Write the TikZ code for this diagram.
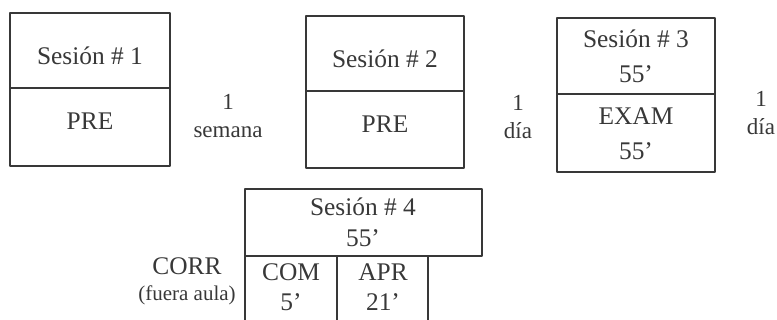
\documentclass[tikz,border=0pt]{standalone}
\usepackage{fontspec}
\setmainfont{Liberation Serif}
\usetikzlibrary{positioning}
\definecolor{inkgray}{HTML}{383838}
\tikzset{
  boxline/.style={draw=inkgray, line width=0.6pt},
  boxtext/.style={font=\fontsize{12.7}{17.5}\selectfont, text=inkgray, align=center, inner sep=0pt},
  gaptext/.style={font=\fontsize{11.5}{14}\selectfont, text=inkgray, align=center, inner sep=0pt},
}
\begin{document}
\begin{tikzpicture}[x=0.5pt, y=-0.5pt, line cap=round, line join=round]
      \clip (0,0) rectangle (777,320);

      % Sesion 1
      \draw[boxline] (10,13) rectangle (170,88);
      \draw[boxline] (10,88) rectangle (170,166);
      \node[boxtext] (s1) at (90,56) {Sesión \# 1};
      \node[boxtext] (pre1) at (90,121) {PRE};
      \node[gaptext] (gap1) at (228,116) {1\\semana};

      % Sesion 2
      \draw[boxline] (306,16) rectangle (464,91);
      \draw[boxline] (306,91) rectangle (464,168);
      \node[boxtext] (s2) at (385,59) {Sesión \# 2};
      \node[boxtext] (pre2) at (385,124) {PRE};
      \node[gaptext] (gap2) at (518,117) {1\\día};

      % Sesion 3
      \draw[boxline] (557,18) rectangle (715,94);
      \draw[boxline] (557,94) rectangle (715,172);
      \node[boxtext] (s3) at (636,56) {Sesión \# 3\\55'};
      \node[boxtext] (exam3) at (636,134) {EXAM\\55'};
      \node[gaptext] (gap3) at (761,113) {1\\día};

      % Sesion 4
      \draw[boxline] (245,189) rectangle (482,256);
      \draw[boxline] (245,256) rectangle (337,330);
      \draw[boxline] (337,256) rectangle (428,330);
      \node[boxtext, font=\fontsize{12.7}{15.5}\selectfont] (s4) at (363,222) {Sesión \# 4\\55'};
      \node[boxtext, font=\fontsize{12.7}{15}\selectfont] (com4) at (291,287) {COM\\5'};
      \node[boxtext, font=\fontsize{12.7}{15}\selectfont] (apr4) at (383,287) {APR\\21'};
      \node[boxtext] (corr) at (187,266) {CORR};
      \node[gaptext, font=\fontsize{10.5}{12}\selectfont, below=5pt of corr] (aula) {(fuera aula)};
\end{tikzpicture}
\end{document}
